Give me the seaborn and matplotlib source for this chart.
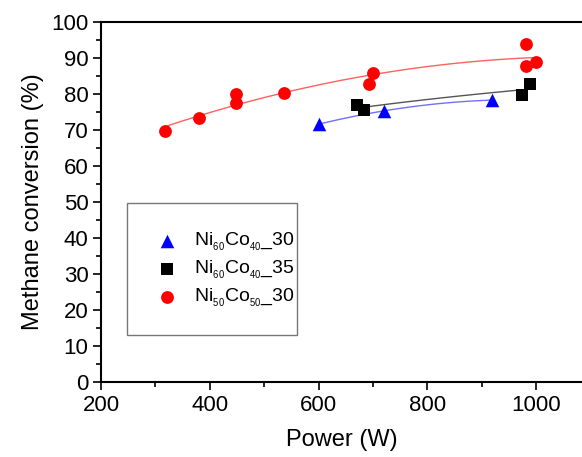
import matplotlib
matplotlib.use("Agg")
import numpy as np
import pandas as pd
import seaborn as sns
from matplotlib import pyplot as plt
from matplotlib.patches import Rectangle
from matplotlib.ticker import MultipleLocator

# Ni60Co40_30
power_a = [600, 720, 919]
conv_a = [71.6, 75.3, 78.3]

# Ni60Co40_35
power_b = [671, 683, 974, 989]
conv_b = [76.8, 75.6, 79.8, 82.7]

# Ni50Co50_30
power_c = [318, 380, 449, 449, 537, 692, 699, 981, 981, 1000]
conv_c = [69.8, 73.2, 77.4, 79.9, 80.2, 82.7, 85.9, 93.9, 87.9, 88.9]

labels = [
    r"Ni$_{_{60}}$Co$_{_{40}}$_30",
    r"Ni$_{_{60}}$Co$_{_{40}}$_35",
    r"Ni$_{_{50}}$Co$_{_{50}}$_30",
]

sns.set_style("ticks")
plt.rcParams["font.family"] = ["Liberation Sans", "DejaVu Sans"]
plt.rcParams["mathtext.fontset"] = "custom"
plt.rcParams["mathtext.rm"] = "Liberation Sans"
plt.rcParams["mathtext.it"] = "Liberation Sans"
plt.rcParams["text.color"] = "black"
plt.rcParams["axes.labelcolor"] = "black"
plt.rcParams["xtick.color"] = "black"
plt.rcParams["ytick.color"] = "black"

fig = plt.figure(figsize=(5.82, 4.57), dpi=100)
ax = fig.add_axes([0.1735, 0.164, 0.8265, 0.788])

series = [
    (power_a, conv_a, labels[0], "^", "#0000ff", "#7070ff", dict(order=2), 95),
    (power_b, conv_b, labels[1], "s", "#000000", "#555555", dict(logx=True), 70),
    (power_c, conv_c, labels[2], "o", "#ff0000", "#ff6060", dict(order=2), 85),
]

for x, y, lab, mk, col, lcol, fit, size in series:
    df = pd.DataFrame({"power": x, "conv": y})
    sns.regplot(
        data=df, x="power", y="conv", ax=ax, ci=None, marker=mk, label=lab,
        scatter_kws=dict(color=col, s=size, linewidths=0, alpha=1, zorder=3),
        line_kws=dict(color=lcol, lw=1, zorder=2),
        **fit,
    )

ax.set_xlim(200, 1084)
ax.set_ylim(0, 100)
ax.xaxis.set_major_locator(MultipleLocator(200))
ax.xaxis.set_minor_locator(MultipleLocator(100))
ax.yaxis.set_major_locator(MultipleLocator(10))
ax.yaxis.set_minor_locator(MultipleLocator(5))
ax.tick_params(which="major", direction="out", length=6, width=1.2, labelsize=16, pad=3)
ax.tick_params(which="minor", direction="out", length=3.5, width=1.2)
for side in ["left", "bottom", "top"]:
    ax.spines[side].set_linewidth(1.5)
    ax.spines[side].set_color("black")
ax.spines["right"].set_visible(False)

ax.set_xlabel("Power (W)", fontsize=17, labelpad=10)
ax.set_ylabel("Methane conversion (%)", fontsize=17, labelpad=5)

# legend frame drawn separately so the inner padding can match the original
ax.add_patch(Rectangle((0.054, 0.1306), 0.353, 0.367, transform=ax.transAxes,
                       fill=False, edgecolor="#777777", lw=1, zorder=4))
leg = ax.legend(
    loc="center left", bbox_to_anchor=(0.081, 0.311), frameon=False,
    fontsize=14, borderpad=0, handletextpad=0.0, labelspacing=0.3,
    borderaxespad=0, handlelength=2.8,
)

fig.savefig("out.png", dpi=100)
